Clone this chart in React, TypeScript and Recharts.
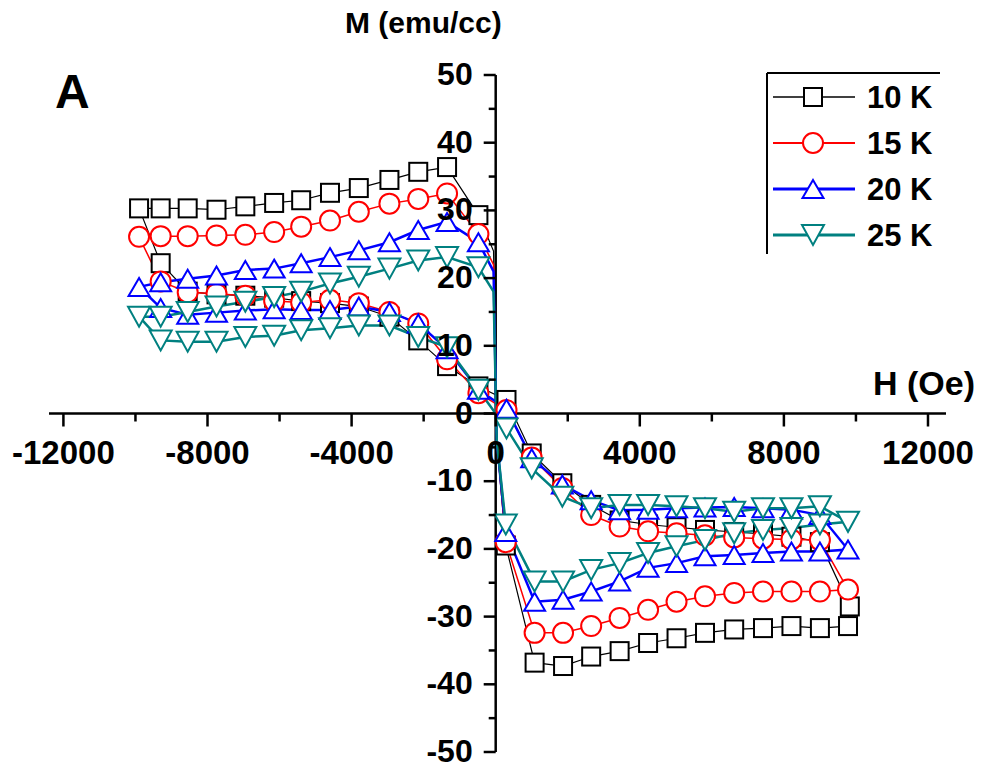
import React from "react";
import { LineChart, Line, XAxis, YAxis, ReferenceLine } from "recharts";

// H (Oe) positions of the measured points, one list per branch of the loop
const H_UPPER_LEFT = [-9900, -9300, -8550, -7750, -6950, -6150, -5400, -4600, -3800, -2950, -2150, -1350];
const H_DROP = [-480, -60, 30, 280]; // sharp switch near H = 0 (middle two have no marker)
const H_LOWER_RIGHT = [1080, 1870, 2650, 3440, 4230, 5020, 5810, 6620, 7420, 8210, 9000, 9780];
const H_TURN = [9830];
const H_UPPER_RIGHT = [9000, 8210, 7420, 6620, 5810, 5020, 4230, 3440, 2650, 1850, 1000];
const H_CROSS = [300, -480];
const H_LOWER_LEFT = [-1350, -2150, -2950, -3800, -4600, -5400, -6150, -6950, -7750, -8550, -9300];

// 10 K
const M10_UL = [30.3, 30.3, 30.3, 30.1, 30.6, 31.1, 31.5, 32.6, 33.3, 34.5, 35.7, 36.4];
const M10_DROP = [29.3, 24, -4, -19.5];
const M10_LR = [-36.8, -37.3, -35.9, -35.1, -33.9, -33.2, -32.4, -31.9, -31.7, -31.4, -31.7, -31.4];
const M10_TURN = [-28.5];
const M10_UR = [-19.0, -18.2, -17.8, -17.5, -17.2, -16.8, -16.4, -15.8, -13.5, -10.3, -5.9];
const M10_CROSS = [2.0, 4.0];
const M10_LL = [7.0, 10.8, 14.3, 15.8, 16.3, 16.6, 17.1, 17.4, 17.6, 18.0, 22.2];

// 15 K
const M15_UL = [26.1, 26.2, 26.2, 26.3, 26.4, 26.8, 27.6, 28.5, 29.8, 31.0, 31.7, 32.5];
const M15_DROP = [26.5, 22, -4, -19];
const M15_LR = [-32.4, -32.4, -31.4, -30.2, -29.0, -27.8, -27.0, -26.5, -26.3, -26.3, -26.3, -26.0];
const M15_UR = [-18.7, -18.6, -18.5, -18.3, -18.0, -17.7, -17.4, -16.7, -15.0, -11.0, -6.5];
const M15_CROSS = [0.5, 3.0];
const M15_LL = [8.0, 13.3, 15.0, 16.3, 16.8, 16.4, 16.6, 17.4, 17.7, 17.9, 19.5];

// 20 K
const M20_UL = [18.7, 19.4, 19.9, 20.4, 21.2, 21.4, 22.2, 23.1, 24.1, 25.3, 27.1, 28.3];
const M20_DROP = [25.3, 21, -4, -17.5];
const M20_LR = [-27.8, -27.5, -26.3, -24.8, -22.8, -22.1, -21.1, -20.9, -20.6, -20.4, -20.4, -20.1];
const M20_UR = [-15.0, -14.2, -14.0, -13.8, -13.9, -14.0, -14.2, -14.3, -12.8, -10.5, -6.6];
const M20_CROSS = [0.7, 3.5];
const M20_LL = [9.5, 13.3, 15.0, 15.8, 15.3, 15.3, 15.4, 15.2, 14.9, 14.6, 15.6];

// 25 K
const M25_UL = [14.3, 14.3, 15.0, 15.8, 16.5, 17.2, 18.0, 19.2, 20.2, 21.4, 22.6, 23.1];
const M25_DROP = [21.6, 18, -4, -16.4];
const M25_LR = [-24.8, -24.8, -23.1, -22.1, -20.6, -19.6, -18.7, -17.7, -17.2, -16.9, -16.4, -16.0];
const M25_UR = [-13.7, -14.0, -14.0, -14.5, -14.0, -13.7, -13.5, -13.5, -14.0, -12.3, -8.1];
const M25_CROSS = [-2.2, 3.5];
const M25_LL = [9.8, 11.3, 13.0, 13.0, 12.6, 12.3, 11.5, 11.3, 10.6, 10.6, 10.8];

const X_TICKS = [-12000, -10000, -8000, -6000, -4000, -2000, 0, 2000, 4000, 6000, 8000, 10000, 12000];
const Y_TICKS = [-50, -45, -40, -35, -30, -25, -20, -15, -10, -5, 0, 5, 10, 15, 20, 25, 30, 35, 40, 45, 50];

const W = 987;
const H = 769;
const MARGIN = { top: 75, right: 41, bottom: 16, left: 48 };
const X_DOMAIN = [-12400, 12500];
const Y_DOMAIN = [-50, 50];
const PLOT_LEFT = MARGIN.left + 1;
const PLOT_W = W - PLOT_LEFT - MARGIN.right;
const PLOT_H = H - MARGIN.top - MARGIN.bottom - 1;
const ZERO_X = PLOT_LEFT + (PLOT_W * (0 - X_DOMAIN[0])) / (X_DOMAIN[1] - X_DOMAIN[0]);
const ZERO_Y = MARGIN.top + (PLOT_H * (Y_DOMAIN[1] - 0)) / (Y_DOMAIN[1] - Y_DOMAIN[0]);

const FONT = "'Liberation Sans', Arial, sans-serif";

type Pt = { h: number; m: number; hidden?: boolean };

function branch(hs: number[], ms: number[], hiddenIdx: number[] = []): Pt[] {
  return hs.map((h, i) => ({ h, m: ms[i], hidden: hiddenIdx.includes(i) }));
}

function loop(ul: number[], drop: number[], lr: number[], turn: number[] | null, ur: number[], cross: number[], ll: number[]): Pt[] {
  const pts = [
    ...branch(H_UPPER_LEFT, ul),
    ...branch(H_DROP, drop, [1, 2]),
    ...branch(H_LOWER_RIGHT, lr),
    ...(turn ? branch(H_TURN, turn) : []),
    ...branch(H_UPPER_RIGHT, ur),
    ...branch(H_CROSS, cross),
    ...branch(H_LOWER_LEFT, ll),
  ];
  pts.push({ ...pts[0], hidden: true }); // close the loop
  return pts;
}

const SERIES = [
  { name: "10 K", color: "#000000", shape: "square", width: 1.2, data: loop(M10_UL, M10_DROP, M10_LR, M10_TURN, M10_UR, M10_CROSS, M10_LL) },
  { name: "15 K", color: "#ff0000", shape: "circle", width: 1.5, data: loop(M15_UL, M15_DROP, M15_LR, null, M15_UR, M15_CROSS, M15_LL) },
  { name: "20 K", color: "#0000ff", shape: "up", width: 2.5, data: loop(M20_UL, M20_DROP, M20_LR, null, M20_UR, M20_CROSS, M20_LL) },
  { name: "25 K", color: "#008080", shape: "down", width: 2.5, data: loop(M25_UL, M25_DROP, M25_LR, null, M25_UR, M25_CROSS, M25_LL) },
];

function marker(shape: string, cx: number, cy: number, color: string, key?: string) {
  const common = { fill: "#ffffff", stroke: color, strokeWidth: 2 };
  if (shape === "square") return <rect key={key} x={cx - 9} y={cy - 9} width={18} height={18} {...common} />;
  if (shape === "circle") return <circle key={key} cx={cx} cy={cy} r={10} {...common} />;
  if (shape === "up")
    return <polygon key={key} points={`${cx},${cy - 9} ${cx + 10.5},${cy + 9} ${cx - 10.5},${cy + 9}`} {...common} />;
  return <polygon key={key} points={`${cx - 11},${cy - 10} ${cx + 11},${cy - 10} ${cx},${cy + 10}`} {...common} />;
}

function renderXTick(props: any) {
  const { x, payload } = props;
  const v = payload.value;
  const major = v % 4000 === 0;
  return (
    <g key={`xt-${v}`}>
      <line x1={x} x2={x} y1={ZERO_Y} y2={ZERO_Y + (major ? 13 : 8)} stroke="#000" strokeWidth={2.5} />
      {major && (
        <text x={x} y={ZERO_Y + 50} textAnchor="middle" fontFamily={FONT} fontWeight="bold" fontSize={33} fill="#000">
          {v}
        </text>
      )}
    </g>
  );
}

function renderYTick(props: any) {
  const { y, payload } = props;
  const v = payload.value;
  const major = v % 10 === 0;
  return (
    <g key={`yt-${v}`}>
      <line x1={ZERO_X - (major ? 12 : 7)} x2={ZERO_X} y1={y} y2={y} stroke="#000" strokeWidth={2.5} />
      {major && (
        <text x={ZERO_X - 23} y={y + 10} textAnchor="end" fontFamily={FONT} fontWeight="bold" fontSize={32} fill="#000">
          {v}
        </text>
      )}
    </g>
  );
}

export default function App() {
  return (
    <div style={{ position: "absolute", left: 0, top: 0, width: W, height: H, background: "#fff" }}>
      <LineChart width={W} height={H} margin={MARGIN}>
        <XAxis
          type="number"
          dataKey="h"
          domain={X_DOMAIN}
          ticks={X_TICKS}
          interval={0}
          height={1}
          axisLine={false}
          tickLine={false}
          tick={renderXTick}
          allowDataOverflow
        />
        <YAxis
          type="number"
          dataKey="m"
          domain={Y_DOMAIN}
          ticks={Y_TICKS}
          interval={0}
          width={1}
          axisLine={false}
          tickLine={false}
          tick={renderYTick}
          allowDataOverflow
        />
        <ReferenceLine y={0} stroke="#000" strokeWidth={2.5} />
        <ReferenceLine x={0} stroke="#000" strokeWidth={2.5} />
        {SERIES.map((s) => (
          <Line
            key={s.name}
            data={s.data}
            dataKey="m"
            name={s.name}
            type="linear"
            stroke={s.color}
            strokeWidth={s.width}
            isAnimationActive={false}
            activeDot={false}
            dot={(p: any) =>
              p.payload.hidden ? <g key={`${s.name}-${p.index}`} /> : marker(s.shape, p.cx, p.cy, s.color, `${s.name}-${p.index}`)
            }
          />
        ))}
      </LineChart>
      <svg width={W} height={H} style={{ position: "absolute", left: 0, top: 0, pointerEvents: "none" }}>
        <text x={55} y={108} fontFamily={FONT} fontWeight="bold" fontSize={48} fill="#000">A</text>
        <text x={345} y={33} fontFamily={FONT} fontWeight="bold" fontSize={30} fill="#000">M (emu/cc)</text>
        <text x={975} y={395} textAnchor="end" fontFamily={FONT} fontWeight="bold" fontSize={34} fill="#000">H (Oe)</text>
        <line x1={767} x2={940} y1={73} y2={73} stroke="#000" strokeWidth={2} />
        <line x1={767} x2={767} y1={73} y2={254} stroke="#000" strokeWidth={2} />
        {SERIES.map((s, i) => {
          const y = 97 + i * 46;
          return (
            <g key={s.name}>
              <line x1={773} x2={855} y1={y} y2={y} stroke={s.color} strokeWidth={s.width + 0.5} />
              {marker(s.shape, 813, y, s.color)}
              <text x={867} y={y + 11} fontFamily={FONT} fontWeight="bold" fontSize={31} fill="#000">
                {s.name}
              </text>
            </g>
          );
        })}
      </svg>
    </div>
  );
}
